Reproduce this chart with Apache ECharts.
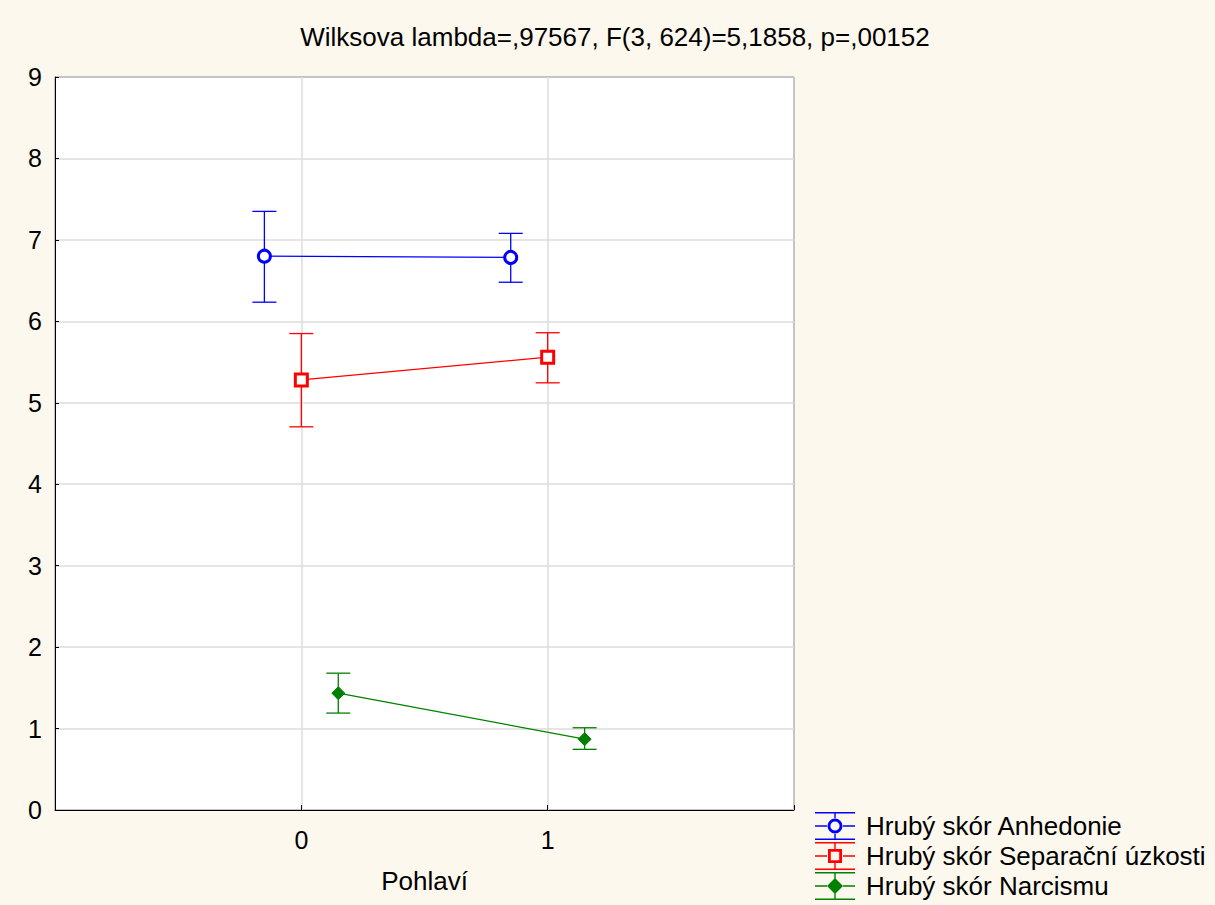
<!DOCTYPE html>
<html>
<head>
<meta charset="utf-8">
<script src="https://cdn.jsdelivr.net/npm/echarts@6/dist/echarts.min.js"></script>
<style>
html,body{margin:0;padding:0;background:#fdf8ee;}
#chart{width:1215px;height:905px;}
</style>
</head>
<body>
<div id="chart"></div>
<script>
// ---- data ----
const groups = [0, 1];                       // Pohlaví
const seriesNames = ['Hrubý skór Anhedonie', 'Hrubý skór Separační úzkosti', 'Hrubý skór Narcismu'];
const groupOffsets = [-0.15, 0, 0.15];       // horizontal jitter of each series
const anhMean = [6.80, 6.785];
const anhLow  = [6.235, 6.48];
const anhHigh = [7.35, 7.08];
const sepMean = [5.28, 5.56];
const sepLow  = [4.705, 5.245];
const sepHigh = [5.85, 5.86];
const narMean = [1.435, 0.87];
const narLow  = [1.19, 0.745];
const narHigh = [1.68, 1.01];
const yTicks = [0, 1, 2, 3, 4, 5, 6, 7, 8, 9];
const titleText = 'Wilksova lambda=,97567, F(3, 624)=5,1858, p=,00152';
const xName = 'Pohlaví';

const colors = ['#0000ff', '#ff0000', '#008000'];
const means = [anhMean, sepMean, narMean];
const lows = [anhLow, sepLow, narLow];
const highs = [anhHigh, sepHigh, narHigh];
const FONT = 'Liberation Sans, Arial, sans-serif';

// legend icons (error bar + marker)
const bars = 'M0 0H40V1.5H0Z M0 26.5H40V28H0Z M0 13.3H12V14.7H0Z M28 13.3H40V14.7H28Z M19.3 0H20.7V7H19.3Z M19.3 21H20.7V28H19.3Z ';
const iconCircle = 'path://' + bars + 'M27.5 14A7.5 7.5 0 1 0 12.5 14A7.5 7.5 0 1 0 27.5 14Z M24.6 14A4.6 4.6 0 1 1 15.4 14A4.6 4.6 0 1 1 24.6 14Z';
const iconSquare = 'path://' + bars + 'M13 7H27V21H13Z M15.8 9.8V18.2H24.2V9.8Z';
const iconDiamond = 'path://' + bars + 'M20 6L28 14L20 22L12 14Z';
const icons = [iconCircle, iconSquare, iconDiamond];
const symbols = ['circle', 'rect', 'diamond'];
const symbolSizes = [12, 12, 13];

const series = [];
seriesNames.forEach((name, i) => {
  const pts = groups.map((g, j) => [g + groupOffsets[i], means[i][j]]);
  series.push({
    name: name,
    type: 'line',
    data: pts,
    symbol: symbols[i],
    symbolSize: symbolSizes[i],
    showSymbol: true,
    lineStyle: { color: colors[i], width: 1.3 },
    itemStyle: i === 2
      ? { color: colors[i], borderColor: colors[i], borderWidth: 1 }
      : { color: '#ffffff', borderColor: colors[i], borderWidth: 3 },
    z: 3,
    animation: false
  });
  series.push({
    name: name,
    type: 'custom',
    data: groups.map((g, j) => [g + groupOffsets[i], lows[i][j], highs[i][j]]),
    renderItem: function (params, api) {
      const x = api.value(0);
      const lo = api.coord([x, api.value(1)]);
      const hi = api.coord([x, api.value(2)]);
      const w = 12;
      const st = { stroke: colors[i], lineWidth: 1.3 };
      return {
        type: 'group',
        children: [
          { type: 'line', shape: { x1: lo[0], y1: lo[1], x2: hi[0], y2: hi[1] }, style: st },
          { type: 'line', shape: { x1: lo[0] - w, y1: lo[1], x2: lo[0] + w, y2: lo[1] }, style: st },
          { type: 'line', shape: { x1: hi[0] - w, y1: hi[1], x2: hi[0] + w, y2: hi[1] }, style: st }
        ]
      };
    },
    z: 2,
    animation: false
  });
});

const chart = echarts.init(document.getElementById('chart'), null, { renderer: 'svg' });
chart.setOption({
  backgroundColor: '#fdf8ee',
  animation: false,
  title: {
    text: titleText,
    left: 615, top: 24, textAlign: 'center', padding: 0,
    textStyle: { fontFamily: FONT, fontWeight: 'normal', fontSize: 26, color: '#000' }
  },
  legend: {
    left: 815, top: 812, orient: 'vertical', padding: 0, height: 92,
    itemWidth: 40, itemHeight: 28, itemGap: 2,
    data: seriesNames.map((n, i) => ({ name: n, icon: icons[i], itemStyle: { color: colors[i], borderWidth: 0 } })),
    textStyle: { fontFamily: FONT, fontSize: 26, lineHeight: 28, color: '#000', padding: [0, 0, 0, 6] },
    selectedMode: false
  },
  grid: {
    left: 55, right: 421, top: 77, bottom: 95,
    show: true, backgroundColor: '#ffffff', borderColor: '#000', borderWidth: 1
  },
  xAxis: {
    type: 'value', min: -1, max: 2, interval: 1,
    name: xName, nameLocation: 'middle', nameGap: 58,
    nameTextStyle: { fontFamily: FONT, fontSize: 26, color: '#000' },
    axisLine: { show: true, onZero: false, lineStyle: { color: '#000', width: 1 } },
    axisTick: { show: true, inside: true, length: 5, lineStyle: { color: '#000' } },
    axisLabel: {
      margin: 17,
      fontFamily: FONT, fontSize: 25, color: '#000',
      formatter: v => (groups.indexOf(v) >= 0 ? String(v) : '')
    },
    splitLine: { show: true, lineStyle: { color: '#dddddd', width: 1.5 } }
  },
  yAxis: {
    type: 'value', min: yTicks[0], max: yTicks[yTicks.length - 1], interval: 1,
    axisLine: { show: true, onZero: false, lineStyle: { color: '#000', width: 1 } },
    axisTick: { show: true, inside: true, length: 4, lineStyle: { color: '#000' } },
    axisLabel: { margin: 13, fontFamily: FONT, fontSize: 25, color: '#000' },
    splitLine: { show: true, lineStyle: { color: '#dddddd', width: 1.5 } }
  },
  series: series
});
</script>
</body>
</html>
